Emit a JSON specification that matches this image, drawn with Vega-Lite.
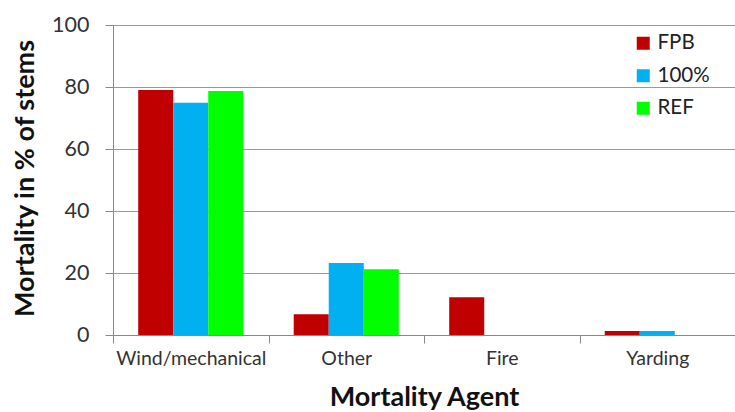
{
  "$schema": "https://vega.github.io/schema/vega-lite/v6.json",
  "width": 622,
  "height": 310,
  "autosize": {"type": "none"},
  "padding": {"left": 113, "top": 25, "right": 0, "bottom": 77},
  "background": "white",
  "config": {"font": "Lato", "view": {"stroke": null}},
  "data": {
    "values": [
      {"agent": "Wind/mechanical", "series": "FPB", "value": 79.0},
      {"agent": "Wind/mechanical", "series": "100%", "value": 74.9},
      {"agent": "Wind/mechanical", "series": "REF", "value": 78.7},
      {"agent": "Other", "series": "FPB", "value": 6.7},
      {"agent": "Other", "series": "100%", "value": 23.2},
      {"agent": "Other", "series": "REF", "value": 21.2},
      {"agent": "Fire", "series": "FPB", "value": 12.2},
      {"agent": "Fire", "series": "100%", "value": 0},
      {"agent": "Fire", "series": "REF", "value": 0},
      {"agent": "Yarding", "series": "FPB", "value": 1.3},
      {"agent": "Yarding", "series": "100%", "value": 1.3},
      {"agent": "Yarding", "series": "REF", "value": 0}
    ]
  },
  "mark": {"type": "bar"},
  "encoding": {
    "x": {
      "field": "agent",
      "type": "nominal",
      "sort": ["Wind/mechanical", "Other", "Fire", "Yarding"],
      "scale": {"paddingInner": 0, "paddingOuter": 0},
      "axis": {
        "title": "Mortality Agent",
        "labelAngle": 0,
        "tickBand": "extent",
        "grid": false,
        "domainColor": "#888",
        "tickColor": "#888",
        "tickSize": 8,
        "labelFontSize": 19.5,
        "labelColor": "#333",
        "labelPadding": 6,
        "titleFontSize": 27,
        "titleFontWeight": "bold",
        "titleColor": "#111",
        "titleY": 70,
        "titleBaseline": "alphabetic"
      }
    },
    "xOffset": {
      "field": "series",
      "sort": ["FPB", "100%", "REF"],
      "scale": {"paddingInner": 0, "paddingOuter": 0.72}
    },
    "y": {
      "field": "value",
      "type": "quantitative",
      "scale": {"domain": [0, 100]},
      "axis": {
        "values": [0, 20, 40, 60, 80, 100],
        "title": "Mortality in % of stems",
        "grid": true,
        "gridColor": "#999",
        "domainColor": "#888",
        "tickColor": "#888",
        "tickSize": 8,
        "labelFontSize": 21.5,
        "labelColor": "#333",
        "labelPadding": 16,
        "titleFontSize": 27,
        "titleFontWeight": "bold",
        "titleColor": "#111",
        "titleX": -88,
        "titleY": 153,
        "titleAlign": "center",
        "titleBaseline": "middle"
      }
    },
    "color": {
      "field": "series",
      "type": "nominal",
      "sort": ["FPB", "100%", "REF"],
      "scale": {"domain": ["FPB", "100%", "REF"], "range": ["#C00000", "#00B0F0", "#00FF00"]},
      "legend": {
        "orient": "none",
        "legendX": 520,
        "legendY": 8,
        "title": null,
        "padding": 0,
        "symbolType": "square",
        "symbolSize": 169,
        "symbolStrokeWidth": 0,
        "labelFontSize": 20.5,
        "labelColor": "#222",
        "rowPadding": 11.5,
        "labelOffset": 4
      }
    }
  }
}
